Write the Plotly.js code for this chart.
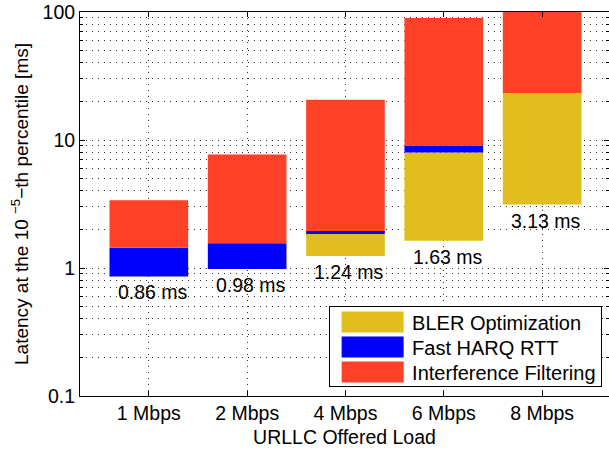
<!DOCTYPE html>
<html>
<head>
<meta charset="utf-8">
<script src="https://cdn.plot.ly/plotly-3.0.1.min.js"></script>
<style>html,body{margin:0;padding:0;background:#fff;}#chart{width:609px;height:450px;}</style>
</head>
<body>
<div id="chart"></div>
<script>
// Data
const categories = ['1 Mbps', '2 Mbps', '4 Mbps', '6 Mbps', '8 Mbps'];
const baseline = [0.86, 0.98, 1.24, 1.63, 3.13];        // final latency (bar bottom)
const afterBLER = [0.86, 0.98, 1.84, 8.0, 23.3];        // top of BLER Optimization segment
const afterHARQ = [1.44, 1.56, 1.95, 9.07, 23.3];       // top of Fast HARQ RTT segment
const total = [3.39, 7.71, 20.6, 89.8, 100];            // top of Interference Filtering segment
const baselineLabels = ['0.86 ms', '0.98 ms', '1.24 ms', '1.63 ms', '3.13 ms'];
const yTickVals = [0.1, 1, 10, 100];
const yTickText = ['0.1', '1', '10', '100'];
const yMinorVals = [0.2, 0.3, 0.4, 0.5, 0.6, 0.7, 0.8, 0.9, 2, 3, 4, 5, 6, 7, 8, 9, 20, 30, 40, 50, 60, 70, 80, 90];

const FONT = 'Liberation Sans, Arial, Helvetica, sans-serif';
const diff = (a, b) => a.map((v, i) => v - b[i]);

const traces = [
  {name: 'BLER Optimization', base: baseline, y: diff(afterBLER, baseline), color: 'rgb(225,190,30)'},
  {name: 'Fast HARQ RTT', base: afterBLER, y: diff(afterHARQ, afterBLER), color: 'rgb(0,0,255)'},
  {name: 'Interference Filtering', base: afterHARQ, y: diff(total, afterHARQ), color: 'rgb(255,65,40)'}
].map(t => ({
  type: 'bar', name: t.name, x: categories, y: t.y, base: t.base, width: 0.8,
  marker: {color: t.color, line: {width: 0}}, hoverinfo: 'skip'
}));

const annotations = categories.map((c, i) => ({
  x: c, y: Math.log10(baseline[i]), xref: 'x', yref: 'y',
  text: baselineLabels[i], showarrow: false, xanchor: 'center', yanchor: 'top',
  xshift: 4, yshift: -3, font: {family: FONT, size: 19.5, color: '#000'}
}));

const GRIDDASH = '1px,5px';
const layout = {
  width: 609, height: 450,
  margin: {l: 79.5, r: 0, t: 11.6, b: 54.4, pad: 0},
  paper_bgcolor: '#fff', plot_bgcolor: '#fff',
  barmode: 'overlay',
  font: {family: FONT, size: 19.5, color: '#000'},
  showlegend: true,
  legend: {
    x: 0.987, y: 0.02, xanchor: 'right', yanchor: 'bottom',
    bgcolor: '#fff', bordercolor: '#000', borderwidth: 1,
    itemwidth: 72, tracegroupgap: 0,
    font: {family: FONT, size: 20, color: '#000'}, traceorder: 'normal'
  },
  xaxis: {
    type: 'category', range: [-0.7, 4.68],
    showline: true, linecolor: '#000', linewidth: 1, mirror: 'ticks',
    ticks: 'inside', ticklen: 5, tickcolor: '#000',
    showgrid: true, gridcolor: '#333', gridwidth: 1, griddash: GRIDDASH,
    zeroline: false,
    tickfont: {family: FONT, size: 19.5},
    title: {text: 'URLLC Offered Load', font: {family: FONT, size: 19.5}, standoff: 6}
  },
  yaxis: {
    type: 'log', range: [-1, 2],
    tickvals: yTickVals, ticktext: yTickText,
    showline: true, linecolor: '#000', linewidth: 1, mirror: 'ticks',
    ticks: 'inside', ticklen: 5, tickcolor: '#000',
    showgrid: true, gridcolor: '#333', gridwidth: 1, griddash: GRIDDASH,
    minor: {tickmode: 'array', tickvals: yMinorVals, showgrid: true, gridcolor: '#333', gridwidth: 1, griddash: GRIDDASH,
            ticks: 'inside', ticklen: 3, tickcolor: '#000'},
    zeroline: false,
    tickfont: {family: FONT, size: 19.5},
    title: {text: 'Latency at the 10 <sup>−5</sup>−th percentile [ms]', font: {family: FONT, size: 19}, standoff: 8}
  },
  annotations: annotations
};

function parseTranslate(el) {
  const t = el.getAttribute('transform') || '';
  const m = t.match(/translate\(\s*([-\d.e]+)[ ,]+([-\d.e]+)\s*\)/);
  return m ? [parseFloat(m[1]), parseFloat(m[2])] : [0, 0];
}

Plotly.newPlot('chart', traces, layout, {displayModeBar: false, staticPlot: true}).then(gd => {
  const legend = gd.querySelector('.legend');
  if (!legend) return;
  const bg = legend.querySelector('.bg');
  // compact MATLAB-like entry spacing: 3 entries, 25px apart, 80px box
  const ENTRY_TOP = 16, ENTRY_STEP = 25, BOX_H = 80, BOX_BOTTOM = 386;
  legend.querySelectorAll('.traces').forEach((g, i) => {
    const [tx] = parseTranslate(g);
    g.setAttribute('transform', 'translate(' + tx + ',' + (ENTRY_TOP + ENTRY_STEP * i) + ')');
  });
  if (bg) bg.setAttribute('height', BOX_H);
  const clip = gd.querySelector('[id^="legend"] rect');
  if (clip) clip.setAttribute('height', BOX_H);
  const [lx] = parseTranslate(legend);
  legend.setAttribute('transform', 'translate(' + lx + ',' + (BOX_BOTTOM - BOX_H) + ')');
  // wide swatches, 12px in from the legend's left edge
  const left = bg ? bg.getBoundingClientRect().left : 0;
  legend.querySelectorAll('.legendpoints path').forEach(p => {
    const m = p.getScreenCTM();
    if (!m) return;
    const x0 = (left + 12 - m.e) / m.a;
    const x1 = x0 + 62;
    p.setAttribute('d', 'M' + x0 + ',-10.5H' + x1 + 'V10.5H' + x0 + 'Z');
  });
});
</script>
</body>
</html>
